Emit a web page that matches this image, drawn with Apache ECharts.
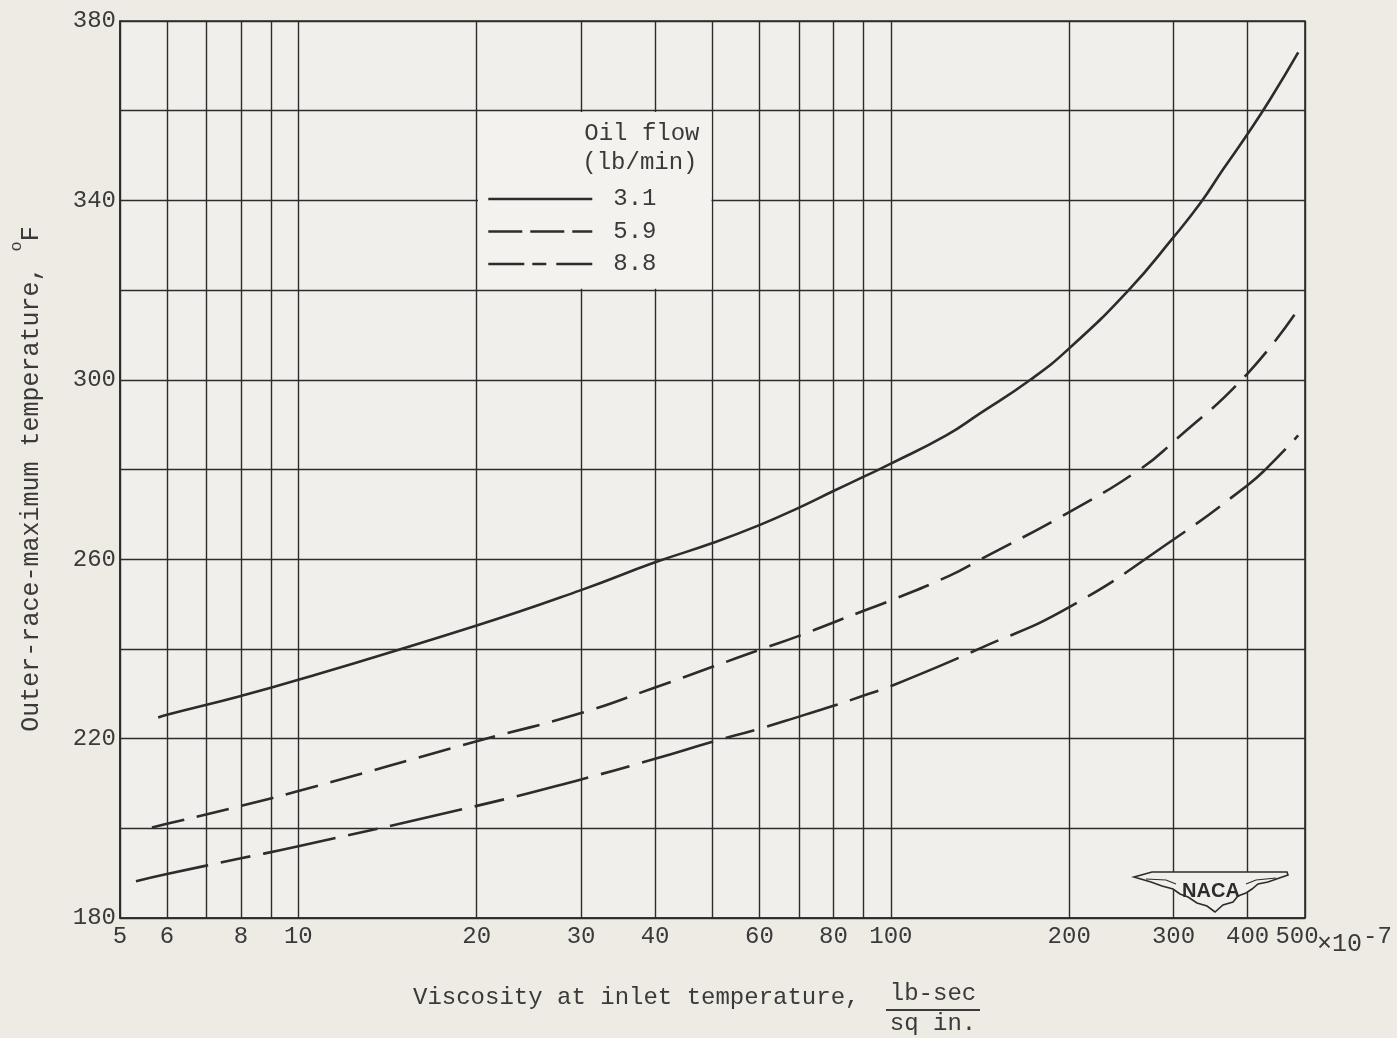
<!DOCTYPE html>
<html>
<head>
<meta charset="utf-8">
<script src="https://cdn.jsdelivr.net/npm/echarts@6/dist/echarts.min.js"></script>
<style>
html,body{margin:0;padding:0;background:#eeebe5;}
#chart{width:1397px;height:1038px;}
</style>
</head>
<body>
<div id="chart"></div>
<script>
// ---- data ----
const xTickLabels = [5, 6, 8, 10, 20, 30, 40, 60, 80, 100, 200, 300, 400, 500];
const xGridValues = [5, 6, 7, 8, 9, 10, 20, 30, 40, 50, 60, 70, 80, 90, 100, 200, 300, 400, 500];
const yTickLabels = [180, 220, 260, 300, 340, 380];
const flowNames = ['3.1', '5.9', '8.8'];

const visc31 = [5.8, 6, 8, 10, 20, 30, 40, 50, 60, 70, 80, 90, 100, 124, 141, 172, 200, 252, 300, 333, 364, 400, 437, 487];
const temp31 = [224.7, 225.3, 229.5, 233.1, 245.2, 253.1, 259.3, 263.6, 267.6, 271.5, 275.2, 278.4, 281.3, 287.6, 292.4, 300.0, 307.0, 320.0, 331.8, 339.4, 347.0, 354.8, 362.6, 373.0];

const visc59 = [5.66, 6, 8, 10, 20, 30, 40, 50, 60, 70, 80, 90, 100, 126, 141, 200, 263, 300, 400, 492];
const temp59 = [200.2, 201.0, 205.0, 208.3, 219.4, 225.7, 231.4, 236.0, 239.8, 242.9, 245.9, 248.5, 250.8, 256.4, 259.8, 270.5, 280.0, 286.2, 301.4, 316.6];

const visc88 = [5.32, 6, 8, 10, 20, 30, 40, 50, 60, 70, 80, 90, 100, 143, 200, 300, 400, 431, 487];
const temp88 = [188.2, 189.8, 193.3, 196.0, 205.0, 210.9, 215.5, 219.3, 222.2, 224.9, 227.3, 229.6, 231.7, 240.4, 249.3, 264.4, 276.5, 280.3, 287.6];

// legend box cell (data coordinates)
const legendCellX = [20, 50];
const legendCellY = [320, 360];

const zip = (xs, ys) => xs.map((x, i) => [x, ys[i]]);

// ---- styling ----
const FONT = '"Liberation Mono", "DejaVu Sans Mono", monospace';
const INK = '#2c2c2c';
const TXT = '#3a3a3a';
const PLOT_BG = '#f1efeb';

const chart = echarts.init(document.getElementById('chart'), null, {renderer: 'canvas'});

const option = {
  backgroundColor: '#eeebe5',
  animation: false,
  grid: {
    left: 120, right: 92, top: 21, bottom: 120,
    show: true, backgroundColor: PLOT_BG, borderColor: INK, borderWidth: 1.6
  },
  xAxis: {
    type: 'log', logBase: 10, min: 5, max: 500,
    axisLine: {show: true, lineStyle: {color: INK, width: 1.6}},
    axisTick: {show: false, customValues: xGridValues},
    axisLabel: {
      customValues: xTickLabels,
      color: TXT, fontFamily: FONT, fontSize: 24, margin: 7,
      formatter: v => {
        const r = Math.round(v);
        return r === 500 ? '{e|500}' : String(r);
      },
      rich: {e: {fontFamily: FONT, fontSize: 24, color: TXT, padding: [0, 16, 0, 0]}}
    },
    splitLine: {show: true, lineStyle: {color: INK, width: 1.4}}
  },
  yAxis: {
    type: 'value', min: 180, max: 380, interval: 20,
    axisLine: {show: true, lineStyle: {color: INK, width: 1.6}},
    axisTick: {show: false},
    axisLabel: {
      customValues: yTickLabels,
      color: TXT, fontFamily: FONT, fontSize: 24, margin: 4
    },
    splitLine: {show: true, lineStyle: {color: INK, width: 1.4}}
  },
  legend: {
    left: 487, top: 187, orient: 'vertical', padding: 0,
    itemWidth: 104, itemHeight: 14, itemGap: 8.5,
    selectedMode: false,
    itemStyle: {opacity: 0},
    lineStyle: {width: 2.6, color: INK},
    textStyle: {fontFamily: FONT, fontSize: 24, color: TXT, padding: [0, 0, 0, 16]},
    data: [
      {name: flowNames[0]},
      {name: flowNames[1], lineStyle: {type: [34, 8]}},
      {name: flowNames[2], lineStyle: {type: [36, 8, 14, 10]}}
    ]
  },
  series: [
    {
      name: flowNames[0], type: 'line', data: zip(visc31, temp31),
      symbol: 'none', smooth: 0.5,
      lineStyle: {color: INK, width: 2.6, type: 'solid'},
      itemStyle: {color: INK},
      markArea: {
        silent: true,
        itemStyle: {color: '#f3f2ef'},
        data: [[
          {coord: [legendCellX[0] * 1.005, legendCellY[1] - 0.3]},
          {coord: [legendCellX[1] * 0.996, legendCellY[0] + 0.3]}
        ]]
      }
    },
    {
      name: flowNames[1], type: 'line', data: zip(visc59, temp59),
      symbol: 'none', smooth: 0.5,
      lineStyle: {color: INK, width: 2.6, type: [33, 13]},
      itemStyle: {color: INK}
    },
    {
      name: flowNames[2], type: 'line', data: zip(visc88, temp88),
      symbol: 'none', smooth: 0.5,
      lineStyle: {color: INK, width: 2.6, type: [74, 13, 30, 13]},
      itemStyle: {color: INK}
    }
  ]
};

chart.setOption(option);

// anchor annotations on the library's scales
const p500 = chart.convertToPixel({xAxisIndex: 0, yAxisIndex: 0}, [500, 180]);
const legTop = chart.convertToPixel({xAxisIndex: 0, yAxisIndex: 0}, [legendCellX[1], legendCellY[1]]);

chart.setOption({
  graphic: [
    // x10^-7 after the last tick label
    {type: 'text', z: 100, x: p500[0] + 12, y: p500[1] + 26,
      style: {text: '×10', fontFamily: FONT, fontSize: 25, fill: TXT, align: 'left', verticalAlign: 'middle'}},
    {type: 'text', z: 100, x: p500[0] + 58, y: p500[1] + 19,
      style: {text: '-7', fontFamily: FONT, fontSize: 24, fill: TXT, align: 'left', verticalAlign: 'middle'}},
    // legend heading
    {type: 'text', z: 100, x: legTop[0] - 13, y: legTop[1] + 23,
      style: {text: 'Oil flow', fontFamily: FONT, fontSize: 24, fill: TXT, align: 'right', verticalAlign: 'middle'}},
    {type: 'text', z: 100, x: legTop[0] - 15, y: legTop[1] + 52,
      style: {text: '(lb/min)', fontFamily: FONT, fontSize: 24, fill: TXT, align: 'right', verticalAlign: 'middle'}},
    // y-axis title
    {type: 'text', z: 100, x: 26, y: 479, rotation: Math.PI / 2,
      style: {
        text: '{m|Outer-race-maximum temperature, }{s|o}{m|F}',
        align: 'center', verticalAlign: 'middle',
        rich: {
          m: {fontFamily: FONT, fontSize: 25, fill: TXT, lineHeight: 36, verticalAlign: 'bottom'},
          s: {fontFamily: FONT, fontSize: 17, fill: TXT, lineHeight: 18, verticalAlign: 'top'}
        }
      }},
    // x-axis title with fraction
    {type: 'text', z: 100, x: 413, y: 998,
      style: {text: 'Viscosity at inlet temperature,', fontFamily: FONT, fontSize: 24, fill: TXT, align: 'left', verticalAlign: 'middle'}},
    {type: 'text', z: 100, x: 933, y: 994,
      style: {text: 'lb-sec', fontFamily: FONT, fontSize: 24, fill: TXT, align: 'center', verticalAlign: 'middle'}},
    {type: 'line', z: 100, shape: {x1: 886, y1: 1010, x2: 980, y2: 1010}, style: {stroke: TXT, lineWidth: 2}},
    {type: 'text', z: 100, x: 933, y: 1024,
      style: {text: 'sq in.', fontFamily: FONT, fontSize: 24, fill: TXT, align: 'center', verticalAlign: 'middle'}},
    // NACA logo
    {type: 'polygon', z: 100,
      shape: {points: [
        [1134, 877], [1152, 872], [1210, 872], [1287, 872], [1288, 875],
        [1268, 882], [1258, 884], [1252, 889], [1246, 893], [1238, 896], [1233, 902], [1223, 905], [1215, 912],
        [1207, 906], [1197, 903], [1188, 897], [1180, 894], [1173, 889], [1162, 886], [1151, 882]
      ]},
      style: {fill: PLOT_BG, stroke: INK, lineWidth: 1.6}},
    {type: 'polyline', z: 101, shape: {points: [[1146, 879], [1166, 880], [1176, 884]]}, style: {stroke: INK, lineWidth: 1.2, fill: null}},
    {type: 'polyline', z: 101, shape: {points: [[1276, 878], [1256, 880], [1246, 884]]}, style: {stroke: INK, lineWidth: 1.2, fill: null}},
    {type: 'text', z: 102, x: 1211, y: 891,
      style: {text: 'NACA', fontFamily: '"Liberation Sans", Arial, sans-serif', fontWeight: 'bold', fontSize: 20, fill: INK, align: 'center', verticalAlign: 'middle'}}
  ]
});
</script>
</body>
</html>
